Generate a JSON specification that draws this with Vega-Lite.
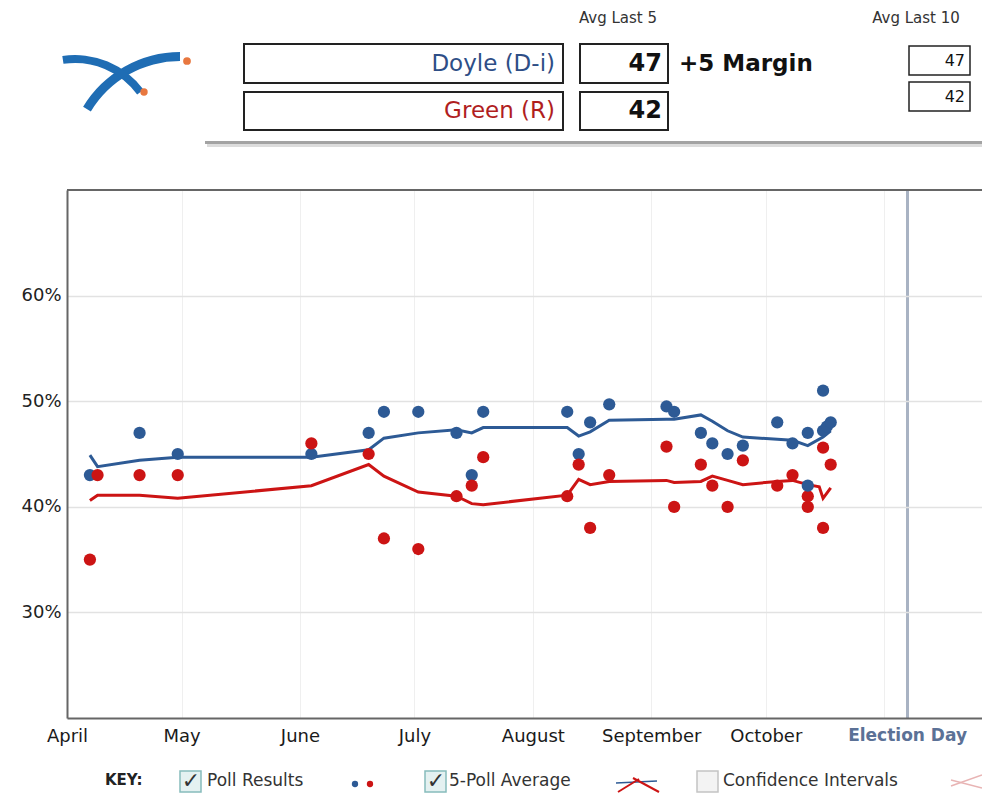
{
  "$schema": "https://vega.github.io/schema/vega-lite/v6.json",
  "width": 915,
  "height": 528,
  "autosize": {"type": "none"},
  "padding": {"left": 67, "top": 190, "right": 0, "bottom": 76},
  "background": "white",
  "config": {"view": {"stroke": null}, "font": "DejaVu Sans", "text": {"font": "DejaVu Sans"}},
  "datasets": {
    "polls": [
      {"date": "2006/04/07", "candidate": "Doyle", "pct": 43},
      {"date": "2006/04/20", "candidate": "Doyle", "pct": 47},
      {"date": "2006/04/30", "candidate": "Doyle", "pct": 45},
      {"date": "2006/06/04", "candidate": "Doyle", "pct": 45},
      {"date": "2006/06/19", "candidate": "Doyle", "pct": 47},
      {"date": "2006/06/23", "candidate": "Doyle", "pct": 49},
      {"date": "2006/07/02", "candidate": "Doyle", "pct": 49},
      {"date": "2006/07/12", "candidate": "Doyle", "pct": 47},
      {"date": "2006/07/16", "candidate": "Doyle", "pct": 43},
      {"date": "2006/07/19", "candidate": "Doyle", "pct": 49},
      {"date": "2006/08/10", "candidate": "Doyle", "pct": 49},
      {"date": "2006/08/13", "candidate": "Doyle", "pct": 45},
      {"date": "2006/08/16", "candidate": "Doyle", "pct": 48},
      {"date": "2006/08/21", "candidate": "Doyle", "pct": 49.7},
      {"date": "2006/09/05", "candidate": "Doyle", "pct": 49.5},
      {"date": "2006/09/07", "candidate": "Doyle", "pct": 49},
      {"date": "2006/09/14", "candidate": "Doyle", "pct": 47},
      {"date": "2006/09/17", "candidate": "Doyle", "pct": 46},
      {"date": "2006/09/21", "candidate": "Doyle", "pct": 45},
      {"date": "2006/09/25", "candidate": "Doyle", "pct": 45.8},
      {"date": "2006/10/04", "candidate": "Doyle", "pct": 48},
      {"date": "2006/10/08", "candidate": "Doyle", "pct": 46},
      {"date": "2006/10/12", "candidate": "Doyle", "pct": 47},
      {"date": "2006/10/16", "candidate": "Doyle", "pct": 51},
      {"date": "2006/10/16", "candidate": "Doyle", "pct": 47.2},
      {"date": "2006/10/17", "candidate": "Doyle", "pct": 47.6},
      {"date": "2006/10/18", "candidate": "Doyle", "pct": 48},
      {"date": "2006/04/07", "candidate": "Green", "pct": 35},
      {"date": "2006/04/09", "candidate": "Green", "pct": 43},
      {"date": "2006/04/20", "candidate": "Green", "pct": 43},
      {"date": "2006/04/30", "candidate": "Green", "pct": 43},
      {"date": "2006/06/04", "candidate": "Green", "pct": 46},
      {"date": "2006/06/19", "candidate": "Green", "pct": 45},
      {"date": "2006/06/23", "candidate": "Green", "pct": 37},
      {"date": "2006/07/02", "candidate": "Green", "pct": 36},
      {"date": "2006/07/12", "candidate": "Green", "pct": 41},
      {"date": "2006/07/16", "candidate": "Green", "pct": 42},
      {"date": "2006/07/19", "candidate": "Green", "pct": 44.7},
      {"date": "2006/08/10", "candidate": "Green", "pct": 41},
      {"date": "2006/08/13", "candidate": "Green", "pct": 44},
      {"date": "2006/08/16", "candidate": "Green", "pct": 38},
      {"date": "2006/08/21", "candidate": "Green", "pct": 43},
      {"date": "2006/09/05", "candidate": "Green", "pct": 45.7},
      {"date": "2006/09/07", "candidate": "Green", "pct": 40},
      {"date": "2006/09/14", "candidate": "Green", "pct": 44},
      {"date": "2006/09/17", "candidate": "Green", "pct": 42},
      {"date": "2006/09/21", "candidate": "Green", "pct": 40},
      {"date": "2006/09/25", "candidate": "Green", "pct": 44.4},
      {"date": "2006/10/04", "candidate": "Green", "pct": 42},
      {"date": "2006/10/08", "candidate": "Green", "pct": 43},
      {"date": "2006/10/12", "candidate": "Green", "pct": 41},
      {"date": "2006/10/12", "candidate": "Green", "pct": 40},
      {"date": "2006/10/12", "candidate": "Doyle", "pct": 42},
      {"date": "2006/10/16", "candidate": "Green", "pct": 45.6},
      {"date": "2006/10/16", "candidate": "Green", "pct": 38},
      {"date": "2006/10/18", "candidate": "Green", "pct": 44}
    ],
    "averages": [
      {"date": "2006/04/07", "candidate": "Doyle", "avg": 44.9},
      {"date": "2006/04/09", "candidate": "Doyle", "avg": 43.8},
      {"date": "2006/04/20", "candidate": "Doyle", "avg": 44.4},
      {"date": "2006/04/30", "candidate": "Doyle", "avg": 44.7},
      {"date": "2006/06/04", "candidate": "Doyle", "avg": 44.7},
      {"date": "2006/06/19", "candidate": "Doyle", "avg": 45.4},
      {"date": "2006/06/23", "candidate": "Doyle", "avg": 46.5},
      {"date": "2006/07/02", "candidate": "Doyle", "avg": 47.0},
      {"date": "2006/07/12", "candidate": "Doyle", "avg": 47.3},
      {"date": "2006/07/16", "candidate": "Doyle", "avg": 47.0},
      {"date": "2006/07/19", "candidate": "Doyle", "avg": 47.5},
      {"date": "2006/08/10", "candidate": "Doyle", "avg": 47.5},
      {"date": "2006/08/13", "candidate": "Doyle", "avg": 46.7},
      {"date": "2006/08/16", "candidate": "Doyle", "avg": 47.1},
      {"date": "2006/08/21", "candidate": "Doyle", "avg": 48.2},
      {"date": "2006/09/05", "candidate": "Doyle", "avg": 48.3},
      {"date": "2006/09/07", "candidate": "Doyle", "avg": 48.3},
      {"date": "2006/09/14", "candidate": "Doyle", "avg": 48.7},
      {"date": "2006/09/17", "candidate": "Doyle", "avg": 48.1},
      {"date": "2006/09/21", "candidate": "Doyle", "avg": 47.2},
      {"date": "2006/09/25", "candidate": "Doyle", "avg": 46.6},
      {"date": "2006/10/04", "candidate": "Doyle", "avg": 46.4},
      {"date": "2006/10/08", "candidate": "Doyle", "avg": 46.3},
      {"date": "2006/10/12", "candidate": "Doyle", "avg": 45.8},
      {"date": "2006/10/16", "candidate": "Doyle", "avg": 46.6},
      {"date": "2006/10/18", "candidate": "Doyle", "avg": 47.2},
      {"date": "2006/04/07", "candidate": "Green", "avg": 40.6},
      {"date": "2006/04/09", "candidate": "Green", "avg": 41.1},
      {"date": "2006/04/20", "candidate": "Green", "avg": 41.1},
      {"date": "2006/04/30", "candidate": "Green", "avg": 40.8},
      {"date": "2006/06/04", "candidate": "Green", "avg": 42.0},
      {"date": "2006/06/19", "candidate": "Green", "avg": 44.0},
      {"date": "2006/06/23", "candidate": "Green", "avg": 42.9},
      {"date": "2006/07/02", "candidate": "Green", "avg": 41.4},
      {"date": "2006/07/12", "candidate": "Green", "avg": 41.0},
      {"date": "2006/07/16", "candidate": "Green", "avg": 40.3},
      {"date": "2006/07/19", "candidate": "Green", "avg": 40.2},
      {"date": "2006/08/10", "candidate": "Green", "avg": 41.1},
      {"date": "2006/08/13", "candidate": "Green", "avg": 42.6},
      {"date": "2006/08/16", "candidate": "Green", "avg": 42.1},
      {"date": "2006/08/21", "candidate": "Green", "avg": 42.4},
      {"date": "2006/09/05", "candidate": "Green", "avg": 42.5},
      {"date": "2006/09/07", "candidate": "Green", "avg": 42.3},
      {"date": "2006/09/14", "candidate": "Green", "avg": 42.4},
      {"date": "2006/09/17", "candidate": "Green", "avg": 42.9},
      {"date": "2006/09/21", "candidate": "Green", "avg": 42.5},
      {"date": "2006/09/25", "candidate": "Green", "avg": 42.1},
      {"date": "2006/10/04", "candidate": "Green", "avg": 42.4},
      {"date": "2006/10/08", "candidate": "Green", "avg": 42.5},
      {"date": "2006/10/12", "candidate": "Green", "avg": 42.1},
      {"date": "2006/10/15", "candidate": "Green", "avg": 41.9},
      {"date": "2006/10/16", "candidate": "Green", "avg": 40.8},
      {"date": "2006/10/18", "candidate": "Green", "avg": 41.8}
    ]
  },
  "layer": [
    {
      "data": {"name": "averages"},
      "mark": {"type": "line", "strokeWidth": 3},
      "encoding": {
        "x": {
          "field": "date", "type": "temporal",
          "scale": {"domain": [{"year": 2006, "month": 4, "date": 1}, {"year": 2006, "month": 11, "date": 26, "hours": 15}]},
          "axis": {
            "title": null,
            "values": [
              {"year": 2006, "month": 4, "date": 1}, {"year": 2006, "month": 5, "date": 1},
              {"year": 2006, "month": 6, "date": 1}, {"year": 2006, "month": 7, "date": 1},
              {"year": 2006, "month": 8, "date": 1}, {"year": 2006, "month": 9, "date": 1},
              {"year": 2006, "month": 10, "date": 1}, {"year": 2006, "month": 11, "date": 1},
              {"year": 2006, "month": 11, "date": 7}
            ],
            "labelExpr": "month(datum.value) == 10 ? (date(datum.value) == 7 ? 'Election Day' : '') : timeFormat(datum.value, '%B')",
            "labelOverlap": false,
            "labelFlush": false,
            "labelFont": "DejaVu Sans",
            "labelFontSize": {"condition": {"test": "month(datum.value) == 10", "value": 17}, "value": 18},
            "labelFontWeight": {"condition": {"test": "month(datum.value) == 10", "value": "bold"}, "value": "normal"},
            "labelColor": {"condition": {"test": "month(datum.value) == 10", "value": "#5b7196"}, "value": "#1a1a1a"},
            "labelPadding": 9,
            "ticks": false,
            "domainColor": "#666666",
            "domainWidth": 2,
            "grid": true,
            "gridColor": {"condition": {"test": "date(datum.value) == 7", "value": "#a9b3c3"}, "value": "#efefef"},
            "gridWidth": {"condition": {"test": "date(datum.value) == 7", "value": 3}, "value": 1}
          }
        },
        "y": {
          "field": "avg", "type": "quantitative",
          "scale": {"domain": [20, 70], "nice": false, "zero": false},
          "axis": {
            "title": null,
            "values": [30, 40, 50, 60],
            "labelExpr": "datum.value + '%'",
            "labelFont": "DejaVu Sans",
            "labelFontSize": 18,
            "labelColor": "#222222",
            "labelPadding": 6,
            "ticks": false,
            "domainColor": "#666666",
            "domainWidth": 2,
            "gridColor": "#e2e2e2",
            "gridWidth": 1.5
          }
        },
        "color": {
          "field": "candidate", "type": "nominal",
          "scale": {"domain": ["Doyle", "Green"], "range": ["#2d5a95", "#cc1414"]},
          "legend": null
        }
      }
    },
    {
      "data": {"name": "polls"},
      "mark": {"type": "circle", "size": 150, "opacity": 1},
      "encoding": {
        "x": {"field": "date", "type": "temporal"},
        "y": {"field": "pct", "type": "quantitative"},
        "color": {"field": "candidate", "type": "nominal"}
      }
    },
    {
      "data": {"values": [{"top": 70}]},
      "mark": {"type": "rule", "color": "#666666", "strokeWidth": 2},
      "encoding": {"y": {"field": "top", "type": "quantitative"}}
    },
    {
      "data": {"values": [{}]},
      "layer": [
        {"mark": {"type": "arc", "x": 113, "y": -25, "innerRadius": 104, "outerRadius": 113, "theta": -1.03, "theta2": 0, "fill": "#1f6db4"}},
        {"mark": {"type": "arc", "x": 8, "y": -50, "innerRadius": 77, "outerRadius": 85, "theta": -0.15, "theta2": 0.94, "fill": "#1f6db4"}},
        {"mark": {"type": "circle", "x": 120, "y": -129, "size": 60, "fill": "#e8773f", "opacity": 1}},
        {"mark": {"type": "circle", "x": 77, "y": -98, "size": 55, "fill": "#e8773f", "opacity": 1}},
        {"mark": {"type": "text", "text": "Avg Last 5", "x": 551, "y": -172, "align": "center", "baseline": "middle", "fontSize": 15, "color": "#333333"}},
        {"mark": {"type": "text", "text": "Avg Last 10", "x": 849, "y": -172, "align": "center", "baseline": "middle", "fontSize": 15, "color": "#333333"}},
        {"mark": {"type": "rect", "x": 177, "x2": 496, "y": -146, "y2": -107, "fill": "white", "stroke": "#222222", "strokeWidth": 2}},
        {"mark": {"type": "rect", "x": 513, "x2": 601, "y": -146, "y2": -107, "fill": "white", "stroke": "#222222", "strokeWidth": 2}},
        {"mark": {"type": "rect", "x": 177, "x2": 496, "y": -98, "y2": -60, "fill": "white", "stroke": "#222222", "strokeWidth": 2}},
        {"mark": {"type": "rect", "x": 513, "x2": 601, "y": -98, "y2": -60, "fill": "white", "stroke": "#222222", "strokeWidth": 2}},
        {"mark": {"type": "rect", "x": 842, "x2": 903, "y": -144, "y2": -115, "fill": "white", "stroke": "#222222", "strokeWidth": 1.5}},
        {"mark": {"type": "rect", "x": 842, "x2": 903, "y": -108, "y2": -79, "fill": "white", "stroke": "#222222", "strokeWidth": 1.5}},
        {"mark": {"type": "text", "text": "Doyle (D-i)", "x": 488, "y": -126, "align": "right", "baseline": "middle", "fontSize": 23, "color": "#2e4e86"}},
        {"mark": {"type": "text", "text": "Green (R)", "x": 488, "y": -79, "align": "right", "baseline": "middle", "fontSize": 23, "color": "#b01e1e"}},
        {"mark": {"type": "text", "text": "47", "x": 595, "y": -126, "align": "right", "baseline": "middle", "fontSize": 24, "fontWeight": "bold", "color": "#111111"}},
        {"mark": {"type": "text", "text": "42", "x": 595, "y": -79, "align": "right", "baseline": "middle", "fontSize": 24, "fontWeight": "bold", "color": "#111111"}},
        {"mark": {"type": "text", "text": "+5 Margin", "x": 612, "y": -126, "align": "left", "baseline": "middle", "fontSize": 23, "fontWeight": "bold", "color": "#111111"}},
        {"mark": {"type": "text", "text": "47", "x": 898, "y": -129, "align": "right", "baseline": "middle", "fontSize": 16, "color": "#111111"}},
        {"mark": {"type": "text", "text": "42", "x": 898, "y": -93, "align": "right", "baseline": "middle", "fontSize": 16, "color": "#111111"}},
        {"mark": {"type": "rect", "x": 138, "x2": 915, "y": -49, "y2": -46, "fill": "#a3a3a3"}},
        {"mark": {"type": "rect", "x": 140, "x2": 915, "y": -46, "y2": -43, "fill": "#dcdcdc"}},
        {"mark": {"type": "text", "text": "KEY:", "x": 38, "y": 590, "align": "left", "baseline": "middle", "fontSize": 15, "fontWeight": "bold", "color": "#222222"}},
        {"mark": {"type": "rect", "x": 113, "x2": 134, "y": 581, "y2": 602, "fill": "#e4f1f1", "stroke": "#86bcbc", "strokeWidth": 1.5}},
        {"mark": {"type": "text", "text": "✓", "x": 124, "y": 591, "align": "center", "baseline": "middle", "fontSize": 22, "fontWeight": "bold", "color": "#333333"}},
        {"mark": {"type": "text", "text": "Poll Results", "x": 140, "y": 591, "align": "left", "baseline": "middle", "fontSize": 17, "color": "#333333"}},
        {"mark": {"type": "circle", "x": 288, "y": 594, "size": 40, "fill": "#2d5a95", "opacity": 1}},
        {"mark": {"type": "circle", "x": 303, "y": 594, "size": 40, "fill": "#cc1414", "opacity": 1}},
        {"mark": {"type": "rect", "x": 358, "x2": 379, "y": 581, "y2": 602, "fill": "#e4f1f1", "stroke": "#86bcbc", "strokeWidth": 1.5}},
        {"mark": {"type": "text", "text": "✓", "x": 369, "y": 591, "align": "center", "baseline": "middle", "fontSize": 22, "fontWeight": "bold", "color": "#333333"}},
        {"mark": {"type": "text", "text": "5-Poll Average", "x": 382, "y": 591, "align": "left", "baseline": "middle", "fontSize": 17, "color": "#333333"}},
        {"mark": {"type": "rule", "color": "#2d5a95", "strokeWidth": 1.5}, "encoding": {"x": {"value": 549}, "x2": {"value": 590}, "y": {"value": 593}, "y2": {"value": 591}}},
        {"mark": {"type": "rule", "color": "#cc1414", "strokeWidth": 2}, "encoding": {"x": {"value": 551}, "x2": {"value": 572}, "y": {"value": 602}, "y2": {"value": 589}}},
        {"mark": {"type": "rule", "color": "#cc1414", "strokeWidth": 2}, "encoding": {"x": {"value": 566}, "x2": {"value": 592}, "y": {"value": 588}, "y2": {"value": 602}}},
        {"mark": {"type": "rect", "x": 630, "x2": 651, "y": 581, "y2": 602, "fill": "#f3f3f3", "stroke": "#c4c4c4", "strokeWidth": 1.5}},
        {"mark": {"type": "text", "text": "Confidence Intervals", "x": 656, "y": 591, "align": "left", "baseline": "middle", "fontSize": 17, "color": "#333333"}},
        {"mark": {"type": "rule", "color": "#e8b4b4", "strokeWidth": 1.5}, "encoding": {"x": {"value": 884}, "x2": {"value": 915}, "y": {"value": 596}, "y2": {"value": 585}}},
        {"mark": {"type": "rule", "color": "#e8b4b4", "strokeWidth": 1.5}, "encoding": {"x": {"value": 884}, "x2": {"value": 915}, "y": {"value": 590}, "y2": {"value": 598}}}
      ]
    }
  ]
}
